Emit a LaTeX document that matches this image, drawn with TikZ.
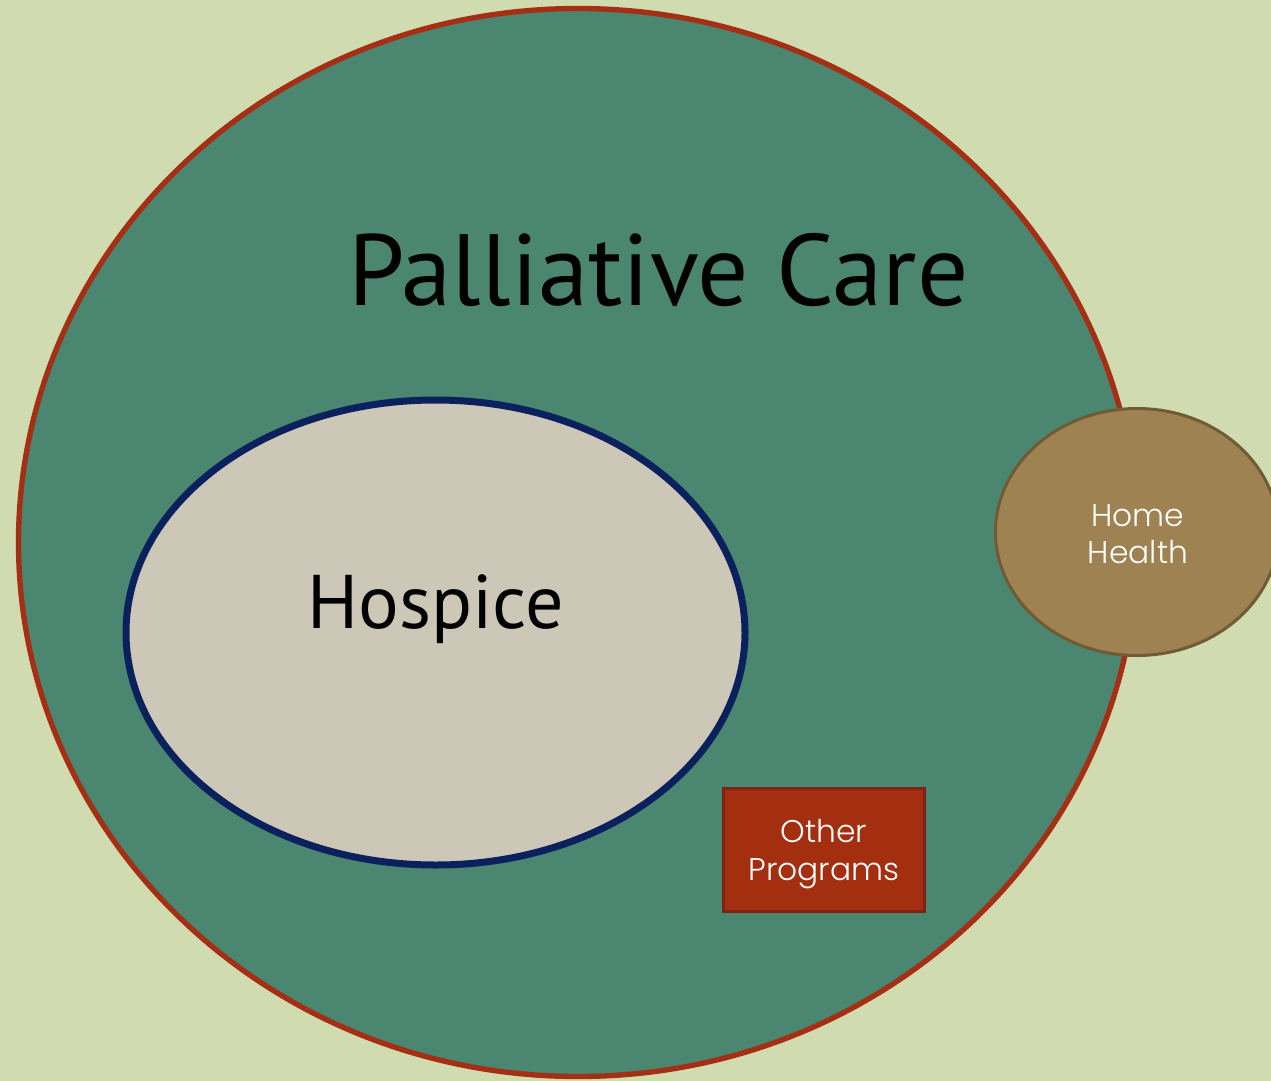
\documentclass[tikz,border=0pt]{standalone}
\usepackage{fontspec}
\setmainfont{PT Sans}
\newfontfamily\gothic{Poppins Light}
\definecolor{bg}{HTML}{D1DBB0}
\definecolor{pgreen}{HTML}{4A8670}
\definecolor{pred}{HTML}{A52F14}
\definecolor{hfill}{HTML}{CCC7B7}
\definecolor{hborder}{HTML}{0B215E}
\definecolor{hhfill}{HTML}{9E8251}
\definecolor{hhborder}{HTML}{6F5B36}
\definecolor{opfill}{HTML}{A32E10}
\definecolor{opborder}{HTML}{7D2310}
\tikzset{
  lbl/.style={inner sep=0pt, anchor=base},
  small/.style={inner sep=0pt, align=center, text=white, font=\gothic\fontsize{23.5pt}{28pt}\selectfont}
}
\begin{document}
\begin{tikzpicture}[x=0.75pt, y=-0.75pt]
\useasboundingbox (0,0) rectangle (1271,1081);
\clip (0,0) rectangle (1271,1081);
\fill[bg] (0,0) rectangle (1271,1081);
% Palliative care circle
\draw[pred, fill=pgreen, line width=4pt] (578,542.5) ellipse [x radius=559.5, y radius=534];
\node[lbl, font=\fontsize{76pt}{80pt}\selectfont] (pc) at (658.5,305) {Palliative Care};
% Hospice
\draw[hborder, fill=hfill, line width=5.25pt] (435.5,632.5) ellipse [x radius=309.5, y radius=232.5];
\node[lbl, font=\fontsize{57pt}{62pt}\selectfont] (hospice) at (435.5,628) {Hospice};
% Home Health
\draw[hhborder, fill=hhfill, line width=2.25pt] (1137,532) ellipse [x radius=141.5, y radius=123.5];
\node[small, anchor=center] (hh) at (1138,534) {Home\\Health};
% Other Programs
\node[draw=opborder, fill=opfill, line width=2.25pt, minimum width=201.75pt*0.75, minimum height=123pt*0.75, inner sep=0pt] (opbox) at (824,849.5) {};
\node[small, anchor=center] (op) at (824,854) {Other\\Programs};
\end{tikzpicture}
\end{document}
